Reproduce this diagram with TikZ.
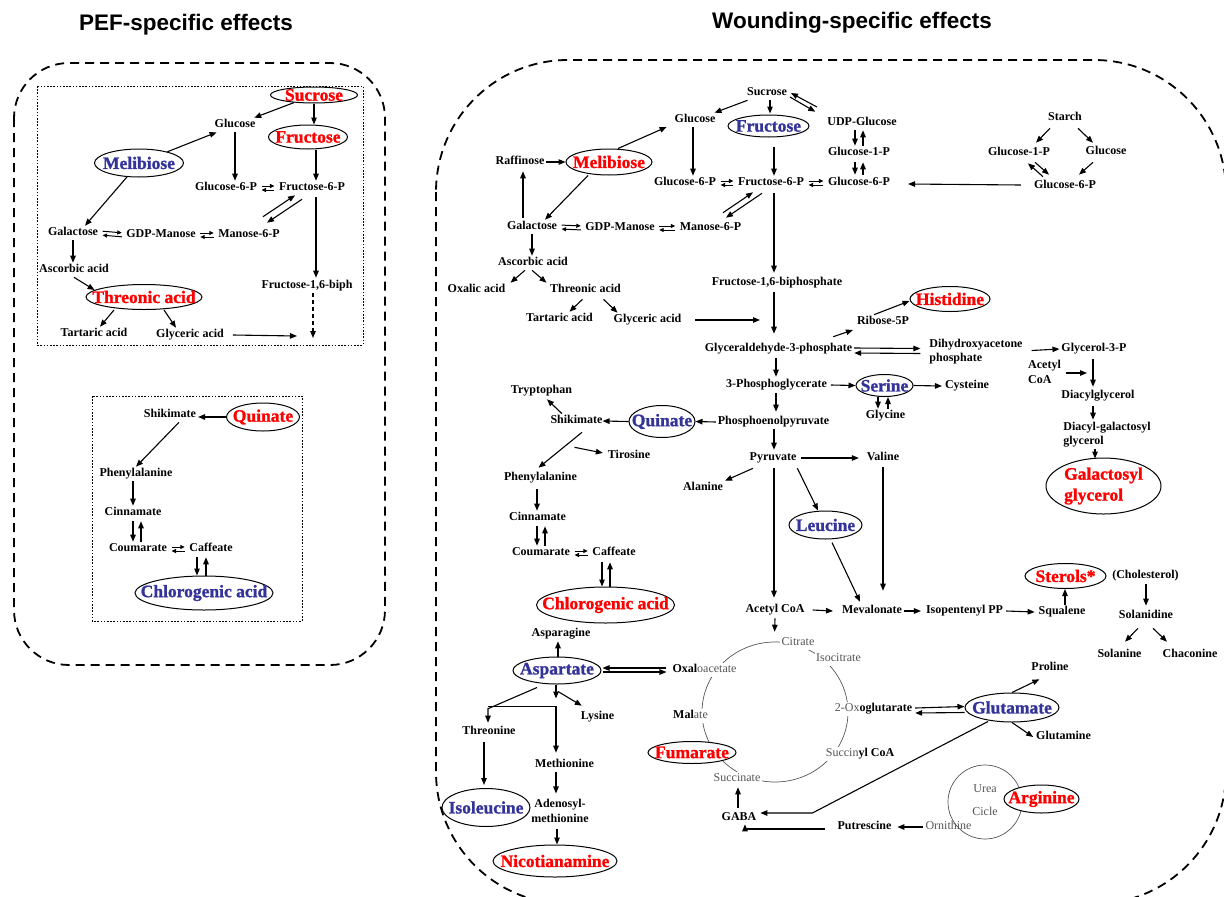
\documentclass[tikz,border=0pt]{standalone}
\usepackage{fontspec}
\setmainfont{Liberation Serif}
\newfontfamily\headfont{Liberation Sans}
\newfontfamily\metfamily[FakeBold=1.2]{Liberation Serif Bold}
\usetikzlibrary{arrows.meta}
\usetikzlibrary{calc}
\usetikzlibrary{shapes.geometric}
\usepackage{xcolor}

\definecolor{lowblue}{RGB}{51,51,153}
\definecolor{cycgray}{RGB}{85,85,85}

\newcommand{\labfont}{\fontsize{12}{14.5}\selectfont\bfseries}
\newcommand{\metfont}{\metfamily\fontsize{17.5}{21}\selectfont}
\newcommand{\ttlfont}{\headfont\fontsize{22.5}{24}\selectfont\bfseries}

\tikzset{
  lab/.style={font=\labfont, inner sep=1.5pt, text height=8pt, text depth=2.5pt},
  lab2/.style={font=\labfont, inner sep=1.5pt, align=left},
  cyc/.style={font=\fontsize{12}{14.5}\selectfont, text=cycgray, inner sep=1.5pt,
              text height=8pt, text depth=2.5pt},
  metab/.style={draw, ellipse, inner sep=0pt, line width=1pt, fill=white},
  hi/.style={text=red, font=\metfont},
  lo/.style={text=lowblue, font=\metfont},
  eqm/.style={-{Triangle[length=4.5pt,width=4pt]}, line width=1pt,
              shorten >=2.5pt, shorten <=2.5pt},
  panel/.style={line width=1.8pt, dash pattern=on 9pt off 6pt},
  subpanel/.style={line width=0.8pt, dash pattern=on 1.6pt off 1.6pt},
  ring/.style={cycgray, line width=0.7pt},
}

\begin{document}
\begin{tikzpicture}[x=1pt, y=-1pt, line width=1.1pt, >={Triangle[length=7pt,width=5.5pt]}]
        \useasboundingbox (0,0) rectangle (1224,897);
        \clip (0,0) rectangle (1224,897);

        % Titles
        \node[font=\ttlfont] (ttlA) at (186,25) {PEF-specific effects};
        \node[font=\ttlfont] (ttlB) at (852,23) {Wounding-specific effects};

        % Panels
        \draw[panel, rounded corners=55] (14,63) rectangle (385,665);
        \draw[panel, rounded corners=132] (436,60) rectangle (1226,904);
        \draw[subpanel] (37,86) rectangle (363,345);
        \draw[subpanel] (92,396) rectangle (302,621);

        % Rings (drawn first, labels sit on them)
        \draw[ring] (775,712) ellipse [x radius=73pt, y radius=70pt];
        \draw[ring] (985,802) circle [radius=37pt];

        % PEF: sugars
        \node[metab, minimum width=87, minimum height=16, label={[hi]center:Sucrose}] (sucA) at (314,95) {};
        \node[lab] (glcA) at (235,125) {Glucose};
        \node[metab, minimum width=79, minimum height=24, label={[hi]center:Fructose}] (fruA) at (308,137) {};
        \node[metab, minimum width=89, minimum height=28, label={[lo]center:Melibiose}] (melA) at (139,163) {};
        \node[lab] (g6pA) at (226,188) {Glucose-6-P};
        \node[lab] (f6pA) at (312,188) {Fructose-6-P};
        \node[lab] (galA) at (73,233) {Galactose};
        \node[lab] (gdpA) at (161,235) {GDP-Manose};
        \node[lab] (m6pA) at (249,235) {Manose-6-P};
        \node[lab] (ascA) at (74,270) {Ascorbic acid};
        \node[lab] (fbpA) at (307,286) {Fructose-1,6-biph};
        \node[metab, minimum width=116, minimum height=25, label={[hi]center:Threonic acid}] (thrA) at (144,297) {};
        \node[lab] (tarA) at (94,334) {Tartaric acid};
        \node[lab] (glyA) at (190,335) {Glyceric acid};
        \coordinate (endA) at (297,336);
        \coordinate (endB) at (313,338);

        \draw[->] (sucA) -- (glcA);
        \draw[->] (sucA.south) -- (sucA.south |- fruA.north);
        \draw[->] (melA) -- (glcA);
        \draw[->] (melA) -- ($(galA.north)+(12,0)$);
        \draw[->] (glcA.south) -- (glcA.south |- g6pA.north);
        \draw[->] ($(fruA.south)+(8,0)$) -- ($(f6pA.north)+(4,0)$);
        \draw[eqm] ($(g6pA.east)+(0,-2)$) -- ($(f6pA.west)+(0,-2)$);
        \draw[eqm] ($(f6pA.west)+(0,2)$) -- ($(g6pA.east)+(0,2)$);
        \draw[->] ($(m6pA.north)+(14,-11)$) -- ($(f6pA.south)+(-17,0)$);
        \draw[->] ($(f6pA.south)+(-10,4)$) -- ($(m6pA.north)+(18,-5)$);
        \draw[eqm] ($(galA.east)+(0,-2)$) -- ($(gdpA.west)+(0,-2)$);
        \draw[eqm] ($(gdpA.west)+(0,2)$) -- ($(galA.east)+(0,2)$);
        \draw[eqm] ($(gdpA.east)+(0,-2)$) -- ($(m6pA.west)+(0,-2)$);
        \draw[eqm] ($(m6pA.west)+(0,2)$) -- ($(gdpA.east)+(0,2)$);
        \draw[->] (galA.south) -- (galA.south |- ascA.north);
        \draw[->] (ascA.south) -- (thrA.172);
        \draw[->] ($(thrA.south)+(-30,0)$) -- ($(tarA.north)+(6,0)$);
        \draw[->] ($(thrA.south)+(20,0)$) -- ($(glyA.north)+(-14,0)$);
        \draw[->] ($(f6pA.south)+(4,2)$) -- ($(fbpA.north)+(9,-1)$);
        \draw[->] ($(glyA.east)+(7,0)$) -- (endA);
        \draw[->, dash pattern=on 4pt off 3pt] (fbpA.south -| endB) -- (endB);

        % PEF: phenylpropanoids
        \node[lab] (shkA) at (170,415) {Shikimate};
        \node[metab, minimum width=73, minimum height=28, label={[hi]center:Quinate}] (quiA) at (263,417) {};
        \node[lab] (pheA) at (136,474) {Phenylalanine};
        \node[lab] (cinA) at (133,513) {Cinnamate};
        \node[lab] (couA) at (138,549) {Coumarate};
        \node[lab] (cafA) at (211,549) {Caffeate};
        \node[metab, minimum width=138, minimum height=34, label={[lo]center:Chlorogenic acid}] (chlA) at (204,593) {};

        \draw[->] (quiA.west) -- (quiA.west -| shkA.east);
        \draw[->] ($(shkA.south)+(9,0)$) -- (pheA.north);
        \draw[->] (pheA.south -| cinA) -- (cinA.north);
        \draw[->] ($(couA.north |- cinA.south)+(-5,1)$) -- ($(couA.north)+(-5,0)$);
        \draw[->] ($(couA.north)+(3,0)$) -- ($(couA.north |- cinA.south)+(3,1)$);
        \draw[eqm] ($(couA.east)+(0,-2)$) -- ($(cafA.west)+(0,-2)$);
        \draw[eqm] ($(cafA.west)+(0,2)$) -- ($(couA.east)+(0,2)$);
        \draw[->] ($(cafA.south)+(-14,1)$) -- ($(chlA.north)+(-7,0)$);
        \draw[->] ($(chlA.north)+(2,0)$) -- ($(cafA.south)+(-5,1)$);

        % Wounding: sugars
        \node[lab] (sucB) at (767,93) {Sucrose};
        \node[lab] (glcB) at (695,120) {Glucose};
        \node[metab, minimum width=81, minimum height=22, label={[lo]center:Fructose}] (fruB) at (768.5,126) {};
        \node[lab] (udpB) at (862,123) {UDP-Glucose};
        \node[lab] (g1pB) at (859,153) {Glucose-1-P};
        \node[lab] (g6pC) at (859,183) {Glucose-6-P};
        \node[lab] (raf) at (520,162) {Raffinose};
        \node[metab, minimum width=86, minimum height=26, label={[hi]center:Melibiose}] (melB) at (609,162) {};
        \node[lab] (g6pB) at (685,183) {Glucose-6-P};
        \node[lab] (f6pB) at (771,183) {Fructose-6-P};
        \node[lab] (starch) at (1065,118) {Starch};
        \node[lab] (g1pC) at (1019,153) {Glucose-1-P};
        \node[lab] (glcC) at (1106,152) {Glucose};
        \node[lab] (g6pD) at (1065,186) {Glucose-6-P};
        \node[lab] (galB) at (532,227) {Galactose};
        \node[lab] (gdpB) at (620,228) {GDP-Manose};
        \node[lab] (m6pB) at (710.5,228) {Manose-6-P};
        \node[lab] (ascB) at (533,263) {Ascorbic acid};
        \node[lab] (oxa) at (476.5,290) {Oxalic acid};
        \node[lab] (thrB) at (585.5,290) {Threonic acid};
        \node[lab] (tarB) at (559.5,319) {Tartaric acid};
        \node[lab] (glyB) at (647.5,320) {Glyceric acid};
        \node[lab] (fbpB) at (777,283) {Fructose-1,6-biphosphate};
        \coordinate (glyend) at (760,320);

        \draw[->] (sucB) -- (glcB);
        \draw[->] ($(sucB.south)+(3,0)$) -- ($(fruB.north)+(1.5,-1)$);
        \draw[->] ($(sucB.east)+(28,14)$) -- ($(sucB.east)+(2,0)$);
        \draw[->] ($(sucB.east)+(1,4)$) -- ($(udpB.north west)+(-10,-4)$);
        \draw[->] ($(udpB.south)+(-7,0)$) -- ($(g1pB.north)+(-4,0)$);
        \draw[->] ($(g1pB.north)+(4,0)$) -- ($(udpB.south)+(1,0)$);
        \draw[->] ($(g1pB.south)+(-4,2)$) -- ($(g6pC.north)+(-4,-1)$);
        \draw[->] ($(g6pC.north)+(4,-1)$) -- ($(g1pB.south)+(4,2)$);
        \draw[->] (raf.east) -- (melB.west);
        \draw[->] ($(melB.north)+(9,0)$) -- ($(glcB.west)+(-6,7)$);
        \draw[->] ($(melB.south)+(-21,0)$) -- ($(galB.north)+(13,0)$);
        \draw[->] ($(galB.north)+(-9,-2)$) -- ($(raf.south)+(3,2)$);
        \draw[->] ($(glcB.south)+(-2,0)$) -- ($(g6pB.north)+(8,0)$);
        \draw[->] ($(fruB.south)+(5.5,9)$) -- ($(f6pB.north)+(3,0)$);
        \draw[eqm] ($(g6pB.east)+(0,-2)$) -- ($(f6pB.west)+(0,-2)$);
        \draw[eqm] ($(f6pB.west)+(0,2)$) -- ($(g6pB.east)+(0,2)$);
        \draw[eqm] ($(f6pB.east)+(0,-2)$) -- ($(g6pC.west)+(0,-2)$);
        \draw[eqm] ($(g6pC.west)+(0,2)$) -- ($(f6pB.east)+(0,2)$);
        \draw[->] ($(m6pB.north)+(12.5,-8)$) -- ($(f6pB.south)+(-18,2)$);
        \draw[->] ($(f6pB.south)+(-9,3)$) -- ($(m6pB.north)+(15.5,-3)$);
        \draw[eqm] ($(galB.east)+(0,-2)$) -- ($(gdpB.west)+(0,-2)$);
        \draw[eqm] ($(gdpB.west)+(0,2)$) -- ($(galB.east)+(0,2)$);
        \draw[eqm] ($(gdpB.east)+(0,-2)$) -- ($(m6pB.west)+(0,-2)$);
        \draw[eqm] ($(m6pB.west)+(0,2)$) -- ($(gdpB.east)+(0,2)$);
        \draw[->] (galB.south) -- (galB.south |- ascB.north);
        \draw[->] ($(ascB.south)+(-8,0)$) -- ($(oxa.north)+(34,0)$);
        \draw[->] ($(ascB.south)+(-1,0)$) -- ($(thrB.north)+(-39,0)$);
        \draw[->] ($(thrB.south)+(-3,2)$) -- ($(tarB.north)+(10,0)$);
        \draw[->] ($(thrB.south)+(18,2)$) -- ($(glyB.north)+(-30,0)$);
        \draw[->] ($(glyB.east)+(12,0)$) -- (glyend);
        \draw[->] ($(f6pB.south)+(3,3)$) -- ($(fbpB.north)+(-3,-3)$);

        % Starch
        \draw[->] ($(starch.south)+(-15,3)$) -- ($(g1pC.north)+(17,-3)$);
        \draw[->] ($(starch.south)+(13,3)$) -- ($(glcC.north)+(-13,-2)$);
        \draw[->] ($(glcC.south)+(-13,3)$) -- ($(g6pD.north)+(14,-4)$);
        \draw[->] ($(g1pC.south)+(16,2)$) -- ($(g6pD.north)+(-16,-4)$);
        \draw[->] ($(g6pD.north)+(-22,-2)$) -- ($(g1pC.south)+(9,3)$);
        \draw[->] ($(g6pD.west)+(-11,-1)$) -- ($(g6pC.east)+(16,1)$);

        % Wounding: glycolysis and lipids
        \node[lab] (gap) at (778.5,349) {Glyceraldehyde-3-phosphate};
        \node[lab] (rib) at (883,322) {Ribose-5P};
        \node[metab, minimum width=80, minimum height=25, label={[hi]center:Histidine}] (hisB) at (950,299) {};
        \node[lab2] (dhap) at (976,351.5) {Dihydroxyacetone\\phosphate};
        \node[lab] (g3p) at (1094,349) {Glycerol-3-P};
        \node[lab2] (acoC) at (1044.5,372) {Acetyl\\CoA};
        \node[lab] (dag) at (1098,396) {Diacylglycerol};
        \node[lab2] (dgg) at (1107,434.5) {Diacyl-galactosyl\\glycerol};
        \node[metab, minimum width=115, minimum height=56, label={[hi, align=left]center:{Galactosyl\\glycerol}}] (galgly) at (1103.5,486) {};
        \coordinate (dagin) at (1087,373);

        \draw[->] ($(fbpB.south)+(-3,2)$) -- ($(gap.north)+(-4.5,-8)$);
        \draw[->] ($(gap.north east)+(-21,-5)$) -- ($(rib.west)+(-2,8)$);
        \draw[->] ($(rib.north)+(-9,0)$) -- ($(hisB.west)+(0,2)$);
        \draw[->] ($(gap.east)+(0,-1)$) -- ($(dhap.west)+(-7,-3)$);
        \draw[->] ($(dhap.west)+(-7,2)$) -- ($(gap.east)+(0,4)$);
        \draw[->] ($(dhap.east)+(7,-1)$) -- (g3p.west);
        \draw[->] ($(acoC.east)+(3,1)$) -- (dagin);
        \draw[->] ($(g3p.south)+(-1,3)$) -- ($(dag.north)+(-5,-2)$);
        \draw[->] ($(dag.south)+(-5,3)$) -- ($(dgg.north)+(-14,0)$);
        \draw[->] ($(dgg.south)+(-12,0)$) -- ($(galgly.north)+(-8.5,1)$);

        % Wounding: amino acids and shikimate
        \node[lab] (pga) at (776.5,385) {3-Phosphoglycerate};
        \node[metab, minimum width=57, minimum height=22, label={[lo]center:Serine}] (serB) at (884.5,385.5) {};
        \node[lab] (cys) at (967,386) {Cysteine};
        \node[lab] (glyc) at (885.5,416) {Glycine};
        \node[lab] (pep) at (773.5,422) {Phosphoenolpyruvate};
        \node[metab, minimum width=66, minimum height=32, label={[lo]center:Quinate}] (quiB) at (662,421.5) {};
        \node[lab] (shkB) at (576.5,421) {Shikimate};
        \node[lab] (trp) at (541.5,391) {Tryptophan};
        \node[lab] (tyr) at (629,456) {Tirosine};
        \node[lab] (pheB) at (540.5,478) {Phenylalanine};
        \node[lab] (cinB) at (537.5,518) {Cinnamate};
        \node[lab] (couB) at (541,553) {Coumarate};
        \node[lab] (cafB) at (614,553) {Caffeate};
        \node[metab, minimum width=138, minimum height=36, label={[hi]center:Chlorogenic acid}] (chlB) at (605.5,605) {};

        \draw[->] ($(gap.south)+(-2.5,2)$) -- ($(pga.north)+(-0.5,-1)$);
        \draw[->] ($(pga.east)+(2,0)$) -- (serB.west);
        \draw[->] (serB.east) -- ($(cys.west)+(-1,0)$);
        \draw[->] ($(serB.south)+(-6.5,0)$) -- ($(glyc.north)+(-7.5,0)$);
        \draw[->] ($(glyc.north)+(2.5,0)$) -- ($(serB.south)+(3.5,0)$);
        \draw[->] ($(pga.south)+(-0.5,1)$) -- ($(pep.north)+(2.5,-3)$);
        \draw[->] (pep.west) -- (quiB.east);
        \draw[->] (quiB.west) -- ($(shkB.east)+(-2,0)$);
        \draw[->] ($(shkB.north)+(-14.5,0)$) -- ($(trp.south)+(5.5,1)$);
        \draw[->] ($(shkB.south)+(-2,19)$) -- ($(tyr.west)+(-3,-3)$);
        \draw[->] ($(shkB.south)+(5.5,4)$) -- ($(pheB.north)+(-2,-3)$);
        \draw[->] ($(pheB.south)+(-3.5,4)$) -- ($(cinB.north)+(-0.5,0)$);
        \draw[->] ($(cinB.south)+(-0.5,1)$) -- ($(couB.north)+(-4,0)$);
        \draw[->] ($(couB.north)+(4,0)$) -- ($(cinB.south)+(7.5,1)$);
        \draw[eqm] ($(couB.east)+(0,-2)$) -- ($(cafB.west)+(0,-2)$);
        \draw[eqm] ($(cafB.west)+(0,2)$) -- ($(couB.east)+(0,2)$);
        \draw[->] ($(cafB.south)+(-12,2)$) -- ($(chlB.north)+(-3.5,0)$);
        \draw[->] ($(chlB.north)+(4.5,0)$) -- ($(cafB.south)+(-4,2)$);

        % Wounding: pyruvate and sterols
        \node[lab] (pyr) at (773,458) {Pyruvate};
        \node[lab] (ala) at (703,488) {Alanine};
        \node[lab] (val) at (883,458) {Valine};
        \node[metab, minimum width=73, minimum height=28, label={[lo]center:Leucine}] (leuB) at (825.5,525) {};
        \node[lab] (acoB) at (775,610) {Acetyl CoA};
        \node[lab] (mev) at (872,611) {Mevalonate};
        \node[lab] (ipp) at (964.5,611) {Isopentenyl PP};
        \node[lab] (sql) at (1062,612) {Squalene};
        \node[metab, minimum width=81, minimum height=25, label={[hi]center:Sterols*}] (stero) at (1065.5,576) {};
        \node[lab] (chol) at (1145.5,576) {(Cholesterol)};
        \node[lab] (sold) at (1146,616) {Solanidine};
        \node[lab] (solan) at (1119.5,655) {Solanine};
        \node[lab] (chac) at (1190,655) {Chaconine};

        \draw[->] ($(pep.south)+(0.5,0)$) -- ($(pyr.north)+(1,-1)$);
        \draw[->] ($(pyr.south)+(-20,3)$) -- (ala.north east);
        \draw[->] ($(pyr.east)+(3,0)$) -- ($(val.west)+(-6,0)$);
        \draw[->] ($(val.south)+(0,2)$) -- ($(mev.north)+(11,-13)$);
        \draw[->] ($(pyr.south east)+(-1,3)$) -- ($(leuB.north)+(-7.5,0)$);
        \draw[->] ($(leuB.south)+(6.5,3)$) -- ($(mev.north)+(-12,-2)$);
        \draw[->] ($(pyr.south)+(1,3)$) -- ($(acoB.north)+(-1,-5)$);
        \draw[->] ($(acoB.east)+(6,0)$) -- ($(mev.west)+(-7,0)$);
        \draw[->] (mev.east) -- ($(ipp.west)+(-3,0)$);
        \draw[->] ($(ipp.east)+(1,0)$) -- ($(sql.west)+(-2,0)$);
        \draw[->] ($(sql.north)+(3,0)$) -- ($(stero.south)+(-0.5,0)$);
        \draw[->] ($(chol.south)+(0.5,1)$) -- ($(sold.north)+(0,-3)$);
        \draw[->] ($(sold.south)+(-8,5)$) -- ($(solan.north)+(5.5,-6)$);
        \draw[->] ($(sold.south)+(7,5)$) -- ($(chac.north)+(-23,-6)$);

        % Wounding: TCA cycle
        \node[cyc, fill=white] (cit) at (798,643) {Citrate};
        \node[cyc, fill=white] (icit) at (838.5,659) {Isocitrate};
        \node[cyc, fill=white] (oxg) at (873.5,709) {2-Ox{\color{black}\bfseries oglutarate}};
        \node[cyc, fill=white] (sca) at (860,754) {Succin{\color{black}\bfseries yl CoA}};
        \node[cyc, fill=white] (succ) at (737,779) {Succinate};
        \node[metab, minimum width=88, minimum height=22, label={[hi]center:Fumarate}] (fum) at (692,752.5) {};
        \node[cyc, fill=white] (mal) at (690.5,716) {{\color{black}\bfseries Mal}ate};
        \node[cyc, fill=white] (oaa) at (704.5,670) {{\color{black}\bfseries Oxal}oacetate};

        \draw[->] ($(acoB.south)+(0,1)$) -- ($(cit.north west)+(-5,-4)$);

        % Wounding: aspartate family
        \node[lab] (asn) at (561,634) {Asparagine};
        \node[metab, minimum width=88, minimum height=27, label={[lo]center:Aspartate}] (aspB) at (557,670.5) {};
        \node[lab] (lys) at (597.5,717) {Lysine};
        \node[lab] (thrn) at (489,732) {Threonine};
        \node[lab] (metn) at (564.5,765) {Methionine};
        \node[lab2, align=center] (adm) at (560,811) {Adenosyl-\\methionine};
        \node[metab, minimum width=88, minimum height=38, label={[lo]center:Isoleucine}] (ile) at (486,807.5) {};
        \node[metab, minimum width=124, minimum height=32, label={[hi]center:Nicotianamine}] (nic) at (555,861) {};

        \draw[->] ($(aspB.north)+(1,0)$) -- ($(asn.south)+(-3,0)$);
        \draw[->] ($(oaa.west)+(-4,-2)$) -- ($(aspB.east)+(1,-2.5)$);
        \draw[->] ($(aspB.east)+(1,1.5)$) -- ($(oaa.west)+(-4,2)$);
        \draw[->] ($(aspB.south)+(-1,0)$) -- ($(aspB.south)+(-1,14)$);
        \draw[->] ($(aspB.south)+(1,7)$) -- ($(lys.north west)+(3,-4)$);
        \draw[->] ($(aspB.south)+(-20,3)$) -- ($(thrn.north)+(-1,-16)$) -- ($(thrn.north)+(-1,-2)$);
        \draw[->] ($(thrn.north)+(-1,-18)$) -| ($(metn.north)+(-8.5,-5)$);
        \draw[->] ($(thrn.south)+(-5,3)$) -- ($(ile.north)+(-2,-3)$);
        \draw[->] ($(metn.south)+(-8.5,0)$) -- ($(adm.north)+(-4,-4)$);
        \draw[->] ($(adm.south)+(-3,4)$) -- ($(nic.north)+(2,0)$);

        % Wounding: glutamate family
        \node[metab, minimum width=94, minimum height=29, label={[lo]center:Glutamate}] (glu) at (1012,707.5) {};
        \node[lab] (pro) at (1050,668) {Proline};
        \node[lab] (gln) at (1063.5,737) {Glutamine};
        \node[lab] (gaba) at (739,818) {GABA};
        \node[lab] (put) at (864.5,827) {Putrescine};
        \node[cyc] (orn) at (948.5,827) {Ornithine};
        \node[cyc] (urea) at (985,790) {Urea};
        \node[cyc] (cicle) at (985,813) {Cicle};
        \node[metab, minimum width=75, minimum height=28, label={[hi]center:Arginine}] (arg) at (1041.5,799) {};

        \draw[->] ($(oxg.east)+(1,-1)$) -- ($(glu.west)+(0,-1)$);
        \draw[->] ($(glu.west)+(0,5)$) -- ($(oxg.east)+(1,4)$);
        \draw[->] (glu.north) -- ($(pro.south west)+(10,4)$);
        \draw[->] (glu.south) -- ($(gln.west)+(-1,0)$);
        \draw[->] ($(glu.south)+(-24,-1)$) -- ($(gaba.east)+(54,-5)$) -- ($(gaba.east)+(2,-5)$);
        \draw[->] ($(put.west)+(-11,2)$) -| ($(gaba.south)+(6,-1)$);
        \draw[->] ($(gaba.north)+(-1,-3)$) -- ($(succ.south)+(1,1)$);
        \draw[->] (orn.west) -- ($(put.east)+(4,0)$);

\end{tikzpicture}
\end{document}
